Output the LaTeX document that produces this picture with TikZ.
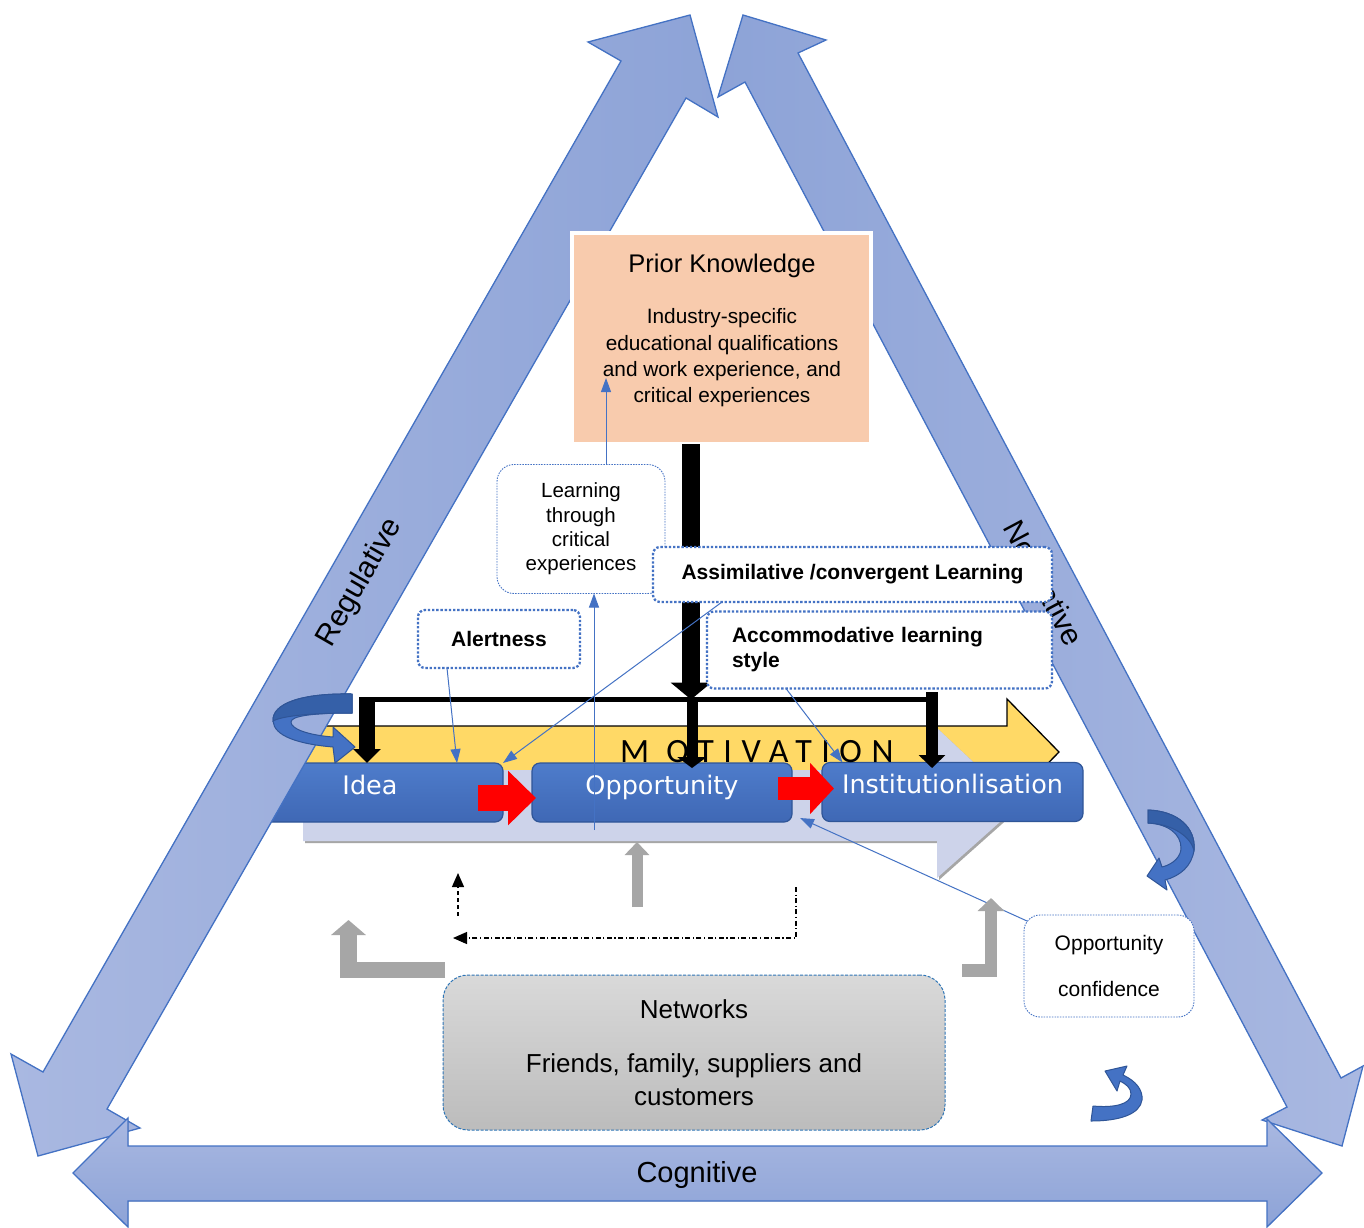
\documentclass[tikz,border=0pt]{standalone}
\usepackage{fontspec}
\setmainfont{Liberation Sans}
\newfontfamily\procfont{DejaVu Sans}
\newfontfamily\motfont[LetterSpace=28]{Carlito}
\usetikzlibrary{arrows.meta}

\definecolor{bandA}{HTML}{A9B8E1}
\definecolor{bandB}{HTML}{8DA3D7}
\definecolor{bandline}{HTML}{4472C4}
\definecolor{pkfill}{HTML}{F8CBAD}
\definecolor{procA}{HTML}{4E7CCB}
\definecolor{procB}{HTML}{3F68B5}
\definecolor{procblue}{HTML}{4472C4}
\definecolor{procdark}{HTML}{2F5597}
\definecolor{procback}{HTML}{3560A8}
\definecolor{motyellow}{HTML}{FFD966}
\definecolor{chev}{HTML}{CDD3EA}
\definecolor{chevshadow}{HTML}{A6A6A6}
\definecolor{linkblue}{HTML}{4472C4}
\definecolor{netA}{HTML}{D9D9D9}
\definecolor{netB}{HTML}{BCBCBC}
\definecolor{netline}{HTML}{2E75B6}
\definecolor{greyarrow}{HTML}{A6A6A6}
\definecolor{redarrow}{HTML}{FF0000}

\begin{document}
\begin{tikzpicture}[x=1pt,y=-1pt,
  every node/.style={inner sep=0pt, outer sep=0pt},
  bandshape/.style={draw=bandline, line width=1.3pt, line join=miter},
  bandlabel/.style={font=\fontsize{30}{36}\selectfont},
  procbox/.style={draw=procdark, line width=1.2pt, rounded corners=8pt,
    top color=procA, bottom color=procB, text=white,
    font=\procfont\fontsize{25.5}{30}\selectfont,
    text height=0.75em, text depth=0.45em, minimum height=59pt},
  boldbox/.style={draw=linkblue, fill=white, rounded corners=7pt, line width=2.3pt,
    dash pattern=on 2.4pt off 1.8pt, font=\bfseries\fontsize{21}{25}\selectfont},
  softbox/.style={draw=linkblue, fill=white, rounded corners=17pt, line width=0.9pt,
    dash pattern=on 1.5pt off 1.2pt},
  thinlink/.style={draw=linkblue, line width=1pt,
    -{Triangle[width=10pt 0 0,length=14pt 0 0]}},
  blackbar/.style={draw=black},
  redblock/.style={draw=redarrow},
  greyblock/.style={draw=greyarrow, line join=miter},
  dashlink/.style={draw=black, line width=1.3pt,
    -{Triangle[width=12pt 0 0,length=14pt 0 0]}},
  curvearrow/.style={fill=procblue, draw=procdark, line width=1pt, line join=round}
]
\useasboundingbox (0,0) rectangle (1364,1227);
\fill[white] (0,0) rectangle (1364,1227);

% motivation arrow behind the process steps
\filldraw[fill=motyellow, draw=black, line width=1.3pt, line join=miter]
  (280,726) -- (1007,726) -- (1007,699) -- (1059,752) -- (1007,805) -- (1007,778) -- (280,778) -- cycle;

% pale chevron carrying the three steps
\fill[chevshadow] (305,772) -- (939,772) -- (939,730) -- (1021,807) -- (939,880) -- (939,843) -- (305,843) -- cycle;
\fill[chev] (303,770) -- (937,770) -- (937,728) -- (1019,805) -- (937,878) -- (937,841) -- (303,841) -- cycle;

% process steps
\node[procbox, minimum width=266pt] (idea) at (370,792.5) {Idea};
\node[procbox, minimum width=260pt] (opp) at (662,792.5) {Opportunity};
\node[procbox, minimum width=261pt] (inst) at (952.5,792) {Institutionlisation};

\node[font=\motfont\fontsize{34}{40}\selectfont, anchor=base west] (motiv) at (620,762) {M OTIVATION};

% institutional pillars
\filldraw[bandshape, left color=bandA, right color=bandB]
  (690,15) -- (718,117) -- (686,98) -- (107,1109) -- (140,1128) -- (38,1156)
  -- (11,1054) -- (43,1072) -- (621,61) -- (588,42) -- cycle;
\filldraw[bandshape, left color=bandB, right color=bandA]
  (743,15) -- (826,40) -- (798,53) -- (1341,1078) -- (1363,1066) -- (1342,1146)
  -- (1262,1120) -- (1287,1107) -- (745,82) -- (718,97) -- cycle;
\filldraw[bandshape, top color=bandA, bottom color=bandB]
  (73,1173) -- (128,1118) -- (128,1146) -- (1267,1146) -- (1267,1119) -- (1322,1173)
  -- (1267,1227) -- (1267,1201) -- (128,1201) -- (128,1227) -- cycle;

\node[bandlabel, rotate=60] (regul) at (360,583) {Regulative};
\node[bandlabel, rotate=-62] (norm) at (1044,583) {Normative};
\node[font=\fontsize{29}{34}\selectfont] (cogn) at (697,1175) {Cognitive};

% prior knowledge
\node[draw=white, line width=4pt, fill=pkfill, minimum width=299pt, minimum height=211pt] (pk) at (721.5,338.5) {};
\node[font=\fontsize{25.5}{30}\selectfont] (pktitle) at (722,266) {Prior Knowledge};
\node[align=center, font=\fontsize{20.8}{26.4}\selectfont] (pkbody) at (722,358) {Industry-specific\\educational qualifications\\and work experience, and\\critical experiences};

% black feed from prior knowledge to the steps
\coordinate (pkfoot) at ([xshift=-30.5pt]pk.south);
\coordinate (busL) at (359,699.5);
\coordinate (busR) at (938,699.5);
\draw[blackbar, line width=18pt, -{Triangle[width=40pt 0 0,length=17pt 0 0]}] (pkfoot) -- (pkfoot |- busL);
\draw[blackbar, line width=5pt] (busL) -- (busR);
\coordinate (dropA) at (367,697);
\coordinate (dropB) at (692,697);
\coordinate (dropBend) at (692,768);
\coordinate (dropC) at (932,692);
\coordinate (dropCend) at (932,768);
\draw[blackbar, line width=16pt, -{Triangle[width=27pt 0 0,length=14pt 0 0]}] (dropA) -- (dropA |- idea.north);
\draw[blackbar, line width=11pt, -{Triangle[width=29pt 0 0,length=11pt 0 0]}] (dropB) -- (dropBend);
\draw[blackbar, line width=12pt, -{Triangle[width=26pt 0 0,length=13pt 0 0]}] (dropC) -- (dropCend);

% learning and alertness boxes
\node[softbox, minimum width=168pt, minimum height=129pt, align=center,
  font=\fontsize{20.5}{24.3}\selectfont] (learn) at (581,529) {Learning\\through\\critical\\experiences};
\node[boldbox, minimum width=162pt, minimum height=58pt] (alert) at (499,639) {Alertness};
\node[boldbox, minimum width=399pt, minimum height=55pt] (assim) at (852.5,574.5) {Assimilative /convergent Learning};
\node[boldbox, minimum height=77pt, text width=295pt, inner xsep=25pt, align=left] (accom) at (879.5,650) {Accommodative learning\\style};

% networks
\node[draw=netline, line width=1pt, dash pattern=on 3pt off 1.5pt, rounded corners=25pt,
  top color=netA, bottom color=netB, minimum width=502pt, minimum height=155pt,
  align=center, font=\fontsize{26}{33}\selectfont] (net) at (694,1052.5)
  {Networks\\[21pt]Friends, family, suppliers and\\customers};

% opportunity confidence
\node[softbox, rounded corners=16pt, minimum width=170pt, minimum height=102pt, align=center,
  font=\fontsize{21}{25}\selectfont] (oppconf) at (1109,966) {Opportunity\\[21pt]confidence};

% red step arrows
\draw[redblock, line width=26pt, -{Triangle[width=53pt 0 0,length=28pt 0 0]}]
  ([xshift=-25pt,yshift=-5.5pt]idea.east) -- ([xshift=4pt,yshift=-5.5pt]opp.west);
\draw[redblock, line width=23pt, -{Triangle[width=50pt 0 0,length=24pt 0 0]}]
  ([xshift=-14pt,yshift=4pt]opp.east) -- ([xshift=12pt,yshift=3.5pt]inst.west);

% thin links
\coordinate (pkin) at (606,378);
\coordinate (optail) at (594,830);
\draw[thinlink] (learn.north -| pkin) -- (pkin);
\draw[thinlink] (optail) -- (learn.south -| optail);
\draw[thinlink] ([xshift=-52pt]alert.south) -- ([xshift=87pt]idea.north);
\draw[thinlink] ([xshift=-130.5pt]assim.south) -- (idea.north east);
\draw[thinlink] ([xshift=-93.5pt]accom.south) -- ([xshift=-110pt]inst.north);
\draw[thinlink] ([xshift=3pt,yshift=-6pt]oppconf.north west) -- ([xshift=8pt,yshift=4pt]opp.south east);

% grey network arrows
\coordinate (gmidfoot) at (637,907);
\coordinate (chevbase) at (637,842);
\draw[greyblock, line width=11pt, -{Triangle[width=24pt 0 0,length=13pt 0 0]}] (gmidfoot) -- (chevbase);
\coordinate (lbendfoot) at (445,970);
\coordinate (lbendtip) at (348.5,920);
\draw[greyblock, line width=16.5pt, -{Triangle[width=34pt 0 0,length=15pt 0 0]}]
  (lbendfoot) -- (lbendfoot -| lbendtip) -- (lbendtip);
\coordinate (rbendfoot) at (962,970.5);
\coordinate (rbendtip) at (991,898);
\draw[greyblock, line width=12.5pt, -{Triangle[width=26pt 0 0,length=13pt 0 0]}]
  (rbendfoot) -- (rbendfoot -| rbendtip) -- (rbendtip);

% dashed feedback
\coordinate (dashfoot) at (458,916);
\coordinate (dashtip) at (458,873);
\draw[dashlink, dash pattern=on 4pt off 3pt] (dashfoot) -- (dashtip);
\coordinate (ddstart) at (796,887);
\coordinate (ddtip) at (453,938);
\draw[dashlink, dash pattern=on 5pt off 2.5pt on 1.2pt off 2.5pt] (ddstart) -- (ddstart |- ddtip) -- (ddtip);

% curved loop arrows
\filldraw[curvearrow] (352,694) .. controls (300,693) and (272,704) .. (273,721)
  .. controls (274,736) and (298,744) .. (333,747) -- (335,763) -- (355,747) -- (333,727) -- (333,737)
  .. controls (308,735) and (291,729) .. (291,722) .. controls (291,716) and (312,713) .. (352,713) -- cycle;
\filldraw[fill=procback, draw=procdark, line width=1pt] (352,694) .. controls (300,693) and (272,704) .. (273,721)
  .. controls (282,716) and (310,713) .. (352,713) -- cycle;

\filldraw[curvearrow] (1148,810) .. controls (1178,811) and (1196,828) .. (1194,850)
  .. controls (1192,866) and (1180,876) .. (1165,880) -- (1167,890) -- (1147,876) -- (1159,858) -- (1162,867)
  .. controls (1174,864) and (1181,856) .. (1181,848) .. controls (1181,834) and (1168,824) .. (1148,823) -- cycle;
\filldraw[fill=procback, draw=procdark, line width=1pt] (1148,810) .. controls (1178,811) and (1196,828) .. (1194,850)
  .. controls (1190,836) and (1172,824) .. (1148,823) -- cycle;

\filldraw[curvearrow] (1093,1106) .. controls (1115,1108) and (1131,1104) .. (1131,1094)
  .. controls (1131,1088) and (1126,1084) .. (1120,1081) -- (1117,1091) -- (1105,1071) -- (1127,1066) -- (1123,1075)
  .. controls (1136,1081) and (1143,1090) .. (1142,1100) .. controls (1140,1114) and (1120,1121) .. (1091,1121) -- cycle;
\end{tikzpicture}
\end{document}
